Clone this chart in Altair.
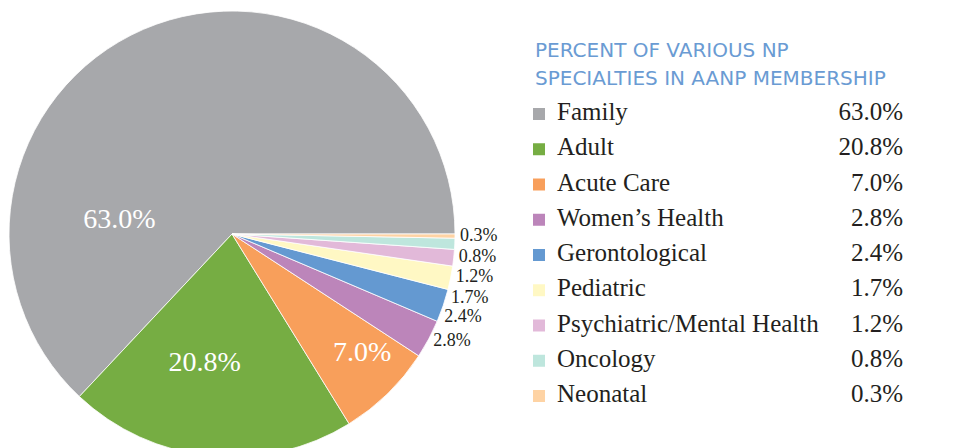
import math
import altair as alt
import pandas as pd

names = ["Family", "Adult", "Acute Care", "Women’s Health", "Gerontological",
         "Pediatric", "Psychiatric/Mental Health", "Oncology", "Neonatal"]
values = [63.0, 20.8, 7.0, 2.8, 2.4, 1.7, 1.2, 0.8, 0.3]
colors = ["#A7A8AB", "#76AD43", "#F89F5B", "#BC85BA", "#6499D1",
          "#FFF8C4", "#E2B9D9", "#BEE6DD", "#FED3A4"]
title_lines = ["Percent of various NP", "specialties in AANP membership"]

df = pd.DataFrame({"name": names, "value": values})
df["label"] = df["value"].map(lambda v: f"{v:.1f}%")

# slices run clockwise from 3 o'clock, smallest first
rev = df.iloc[::-1].copy()
rev["end"] = rev["value"].cumsum()
rev["start"] = rev["end"] - rev["value"]
rev["mid"] = (rev["start"] + rev["end"]) / 2
# spread the small outside labels so they do not collide
lab = []
prev = -10.0
for m, v in zip(rev["mid"], rev["value"]):
    p = max(m, prev + 1.45) if v < 5 else m
    lab.append(p)
    prev = p
rev["lab"] = lab
df = df.join(rev[["start", "end", "mid", "lab"]])

CX, CY, R = 232, 234, 223
theta_scale = alt.Scale(domain=[0, 100], range=[math.pi / 2, 5 * math.pi / 2])
color_scale = alt.Scale(domain=names, range=colors)
serif = "Liberation Serif"

base = alt.Chart(df)

pie = base.mark_arc(outerRadius=R, stroke="white", strokeWidth=0.8).encode(
    x=alt.value(CX), y=alt.value(CY),
    theta=alt.Theta("start:Q", scale=theta_scale, stack=False),
    theta2="end:Q",
    color=alt.Color("name:N", scale=color_scale, legend=None),
)

outside = base.transform_filter("datum.value < 5").mark_text(
    radius=228, align="left", baseline="middle", font=serif, fontSize=18, color="#231F20"
).encode(
    x=alt.value(CX), y=alt.value(CY),
    theta=alt.Theta("lab:Q", scale=theta_scale, stack=False),
    text="label:N",
)

inside_cfg = {
    "Family": dict(radius=115, dx=-67, dy=92),
    "Adult": dict(radius=132, dx=-14, dy=-2),
    "Acute Care": dict(radius=172, dx=10, dy=-4),
}
inside_layers = []
for nm, cfg in inside_cfg.items():
    inside_layers.append(
        base.transform_filter(alt.datum.name == nm).mark_text(
            align="center", baseline="middle", font=serif, fontSize=28,
            color="white", **cfg
        ).encode(
            x=alt.value(CX), y=alt.value(CY),
            theta=alt.Theta("mid:Q", scale=theta_scale, stack=False),
            text="label:N",
        )
    )

yscale = alt.Y("name:N", sort=names, axis=None,
               scale=alt.Scale(type="point", range=[114, 396], padding=0))

squares = base.mark_square(size=144, opacity=1).encode(
    x=alt.value(539), y=yscale,
    color=alt.Color("name:N", scale=color_scale, legend=None),
)
leg_names = base.mark_text(align="left", baseline="alphabetic", dy=6, font=serif,
                           fontSize=25, color="#231F20").encode(
    x=alt.value(557), y=yscale, text="name:N")
leg_vals = base.mark_text(align="right", baseline="alphabetic", dy=6, font=serif,
                          fontSize=25, color="#231F20").encode(
    x=alt.value(903), y=yscale, text="label:N")

title_layers = []
for i, line in enumerate(title_lines):
    title_layers.append(
        alt.Chart(pd.DataFrame({"t": [line.upper()]})).mark_text(
            align="left", baseline="alphabetic", font="DejaVu Sans", fontSize=20,
            color="#6A9BD3"
        ).encode(x=alt.value(535), y=alt.value(57 + 28 * i), text="t:N")
    )

chart = alt.layer(pie, outside, *inside_layers, squares, leg_names, leg_vals,
                  *title_layers).properties(
    width=955, height=448, padding=0, autosize="none", background="white"
).configure_view(stroke=None)

chart.save("out.html", embed_options={"renderer": "svg", "actions": False})
